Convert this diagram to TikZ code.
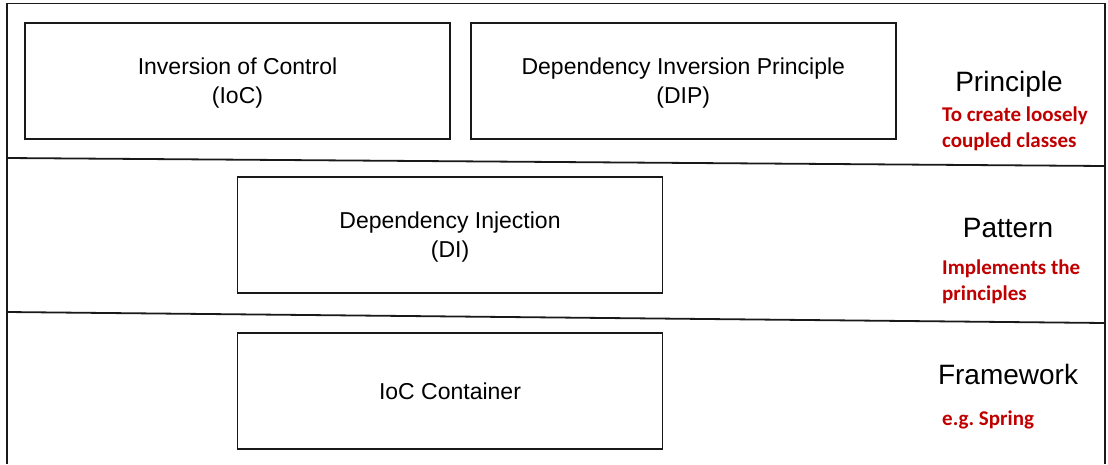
\documentclass[tikz,border=0pt]{standalone}
\usepackage{fontspec}
\setmainfont{Liberation Sans}
\newfontfamily\notefont{Carlito}
\usetikzlibrary{positioning}
\definecolor{notered}{HTML}{C00000}
\newcommand{\twolines}[2]{\raisebox{-2.5pt}[\height][\depth]{\begin{tabular}{@{}c@{}}#1\\#2\end{tabular}}}

\begin{document}
\begin{tikzpicture}[x=1pt, y=-1pt, node distance=19pt and 19pt,
  concept/.style={
    % The shape:
    rectangle,
    % The size:
    minimum width=425pt, minimum height=116pt,
    % The border:
    line width=1.8pt, draw=black!90,
    % Font
    font=\fontsize{23}{28.5}\selectfont
  },
  level/.style={font=\fontsize{28}{32}\selectfont, inner sep=0pt},
  note/.style={font=\notefont\bfseries\fontsize{21}{26}\selectfont,
    text=notered, align=left, inner sep=0pt, anchor=west},
  frame/.style={line width=1.8pt, draw=black!90}]

  \useasboundingbox (0,0) rectangle (1108,464);

  % outer frame and the two layer borders
  \draw[frame] (7,464) |- (1105,3.5) -- (1105,464);
  \draw[frame] (7,158) -- (1105,166);
  \draw[frame] (7,312) -- (1105,323);

  % principle layer
  \node (ioc) [concept] at (237.5,81) {\twolines{Inversion of Control}{(IoC)}};
  \node (dip) [concept, right = of ioc] {\twolines{Dependency Inversion Principle}{(DIP)}};
  \node (principle) [level] at (1009,84) {Principle};
  \node (principlenote) [note] at (942,129) {To create loosely\\coupled classes};

  % pattern layer
  \node (di) [concept] at (450,235) {\twolines{Dependency Injection}{(DI)}};
  \node (pattern) [level] at (1008,228) {Pattern};
  \node (patternnote) [note] at (942,282) {Implements the\\principles};

  % framework layer
  \node (container) [concept, below = 38pt of di] {IoC Container};
  \node (framework) [level] at (1008,374) {Framework};
  \node (frameworknote) [note] at (942,420) {e.g.\ Spring};
\end{tikzpicture}
\end{document}
